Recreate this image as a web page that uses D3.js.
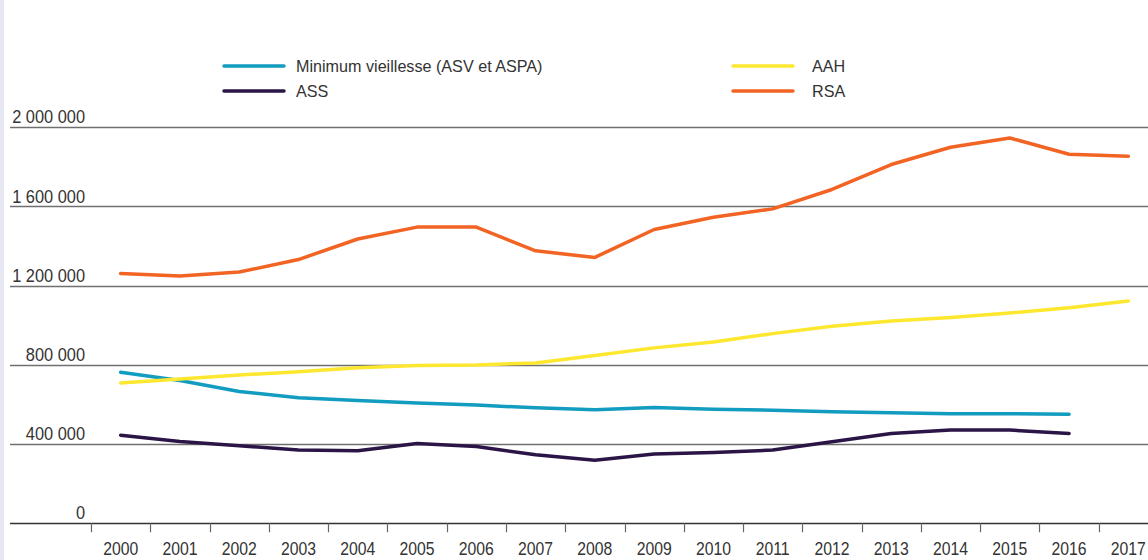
<!DOCTYPE html>
<html>
<head>
<meta charset="utf-8">
<script src="https://cdn.jsdelivr.net/npm/d3@7"></script>
<style>
  body { margin: 0; background: #fff; overflow: hidden; }
  text { font-family: "Liberation Sans", Arial, sans-serif; fill: #333; }
</style>
</head>
<body>
<div id="svg-area"></div>
<script>
var years = ["2000","2001","2002","2003","2004","2005","2006","2007","2008","2009",
             "2010","2011","2012","2013","2014","2015","2016","2017"];

// Minimum vieillesse (ASV et ASPA), ends in 2016
var minVieillesse = [763000, 721000, 666000, 634000, 620000, 607000, 597000, 583000, 573000,
                     585000, 576000, 571000, 563000, 558000, 553000, 553000, 551000, null];
var ass = [445000, 413000, 392000, 370000, 366000, 403000, 388000, 346000, 319000,
           350000, 358000, 370000, 412000, 454000, 471000, 471000, 454000, null];
var aah = [709000, 729000, 749000, 766000, 785000, 797000, 800000, 810000, 847000,
           886000, 916000, 958000, 995000, 1022000, 1039000, 1062000, 1089000, 1123000];
var rsa = [1262000, 1249000, 1269000, 1332000, 1436000, 1496000, 1496000, 1376000, 1343000,
           1484000, 1546000, 1588000, 1686000, 1812000, 1899000, 1946000, 1864000, 1854000];

var yTicks = [0, 400000, 800000, 1200000, 1600000, 2000000];

var series = [
  { name: "Minimum vieillesse (ASV et ASPA)", values: minVieillesse, color: "#129cc0" },
  { name: "ASS", values: ass, color: "#2b1547" },
  { name: "AAH", values: aah, color: "#fde72f" },
  { name: "RSA", values: rsa, color: "#f26424" }
];

var svgWidth = 1148;
var svgHeight = 560;

var svg = d3.select("#svg-area")
  .append("svg")
  .attr("width", svgWidth)
  .attr("height", svgHeight);

// thin lavender strip on the left edge
svg.append("rect")
  .attr("x", 0).attr("y", 0)
  .attr("width", 4).attr("height", svgHeight)
  .attr("fill", "#e7e7f3");

var xScale = d3.scaleBand()
  .domain(years)
  .range([91, 1158]);

var yScale = d3.scaleLinear()
  .domain([0, 2000000])
  .range([523.3, 127.3]);

var fmt = function(v) {
  return d3.format(",")(v).replace(/,/g, " ");
};

// gridlines + y labels
var grid = svg.append("g");
grid.selectAll("line")
  .data(yTicks)
  .enter()
  .append("line")
  .attr("x1", 10)
  .attr("x2", svgWidth)
  .attr("y1", d => Math.round(yScale(d)) + 0.5)
  .attr("y2", d => Math.round(yScale(d)) + 0.5)
  .attr("stroke", d => d === 0 ? "#333" : "#6f6f6f")
  .attr("stroke-width", 1.4);

// condensed look: squeeze the text horizontally
grid.selectAll("text")
  .data(yTicks)
  .enter()
  .append("text")
  .attr("transform", d => `translate(85, ${yScale(d) - 4}) scale(0.91, 1)`)
  .attr("text-anchor", "end")
  .style("font-size", "18px")
  .text(d => fmt(d));

// x axis: ticks at band edges, labels in band centres
var bottomAxis = d3.axisBottom(xScale).tickSize(0).tickPadding(0);
var xAxis = svg.append("g")
  .attr("transform", `translate(0, ${yScale(0)})`)
  .call(bottomAxis);
xAxis.select(".domain").remove();
xAxis.attr("font-family", null).attr("font-size", null);
xAxis.selectAll("text")
  .attr("dy", "0")
  .attr("y", 32)
  .attr("transform", "scale(0.9, 1)")
  .style("font-size", "17.5px")
  .attr("fill", "#333");

svg.append("g")
  .selectAll("line")
  .data(years)
  .enter()
  .append("line")
  .attr("x1", d => Math.round(xScale(d)) + 0.5)
  .attr("x2", d => Math.round(xScale(d)) + 0.5)
  .attr("y1", yScale(0))
  .attr("y2", yScale(0) + 9)
  .attr("stroke", "#666")
  .attr("stroke-width", 1.2);

// lines
var line = d3.line()
  .defined(d => d.v !== null)
  .x(d => xScale(d.year) + xScale.bandwidth() / 2)
  .y(d => yScale(d.v));

svg.append("g")
  .selectAll("path")
  .data(series)
  .enter()
  .append("path")
  .attr("d", s => line(s.values.map((v, i) => ({ year: years[i], v: v }))))
  .attr("fill", "none")
  .attr("stroke", s => s.color)
  .attr("stroke-width", 3.5)
  .attr("stroke-linecap", "round")
  .attr("stroke-linejoin", "round");

// legend
var legendPos = [
  { x: 224, y: 66 },
  { x: 224, y: 91 },
  { x: 733, y: 66 },
  { x: 733, y: 91 }
];
var legend = svg.append("g")
  .selectAll("g")
  .data(series)
  .enter()
  .append("g")
  .attr("transform", (s, i) => `translate(${legendPos[i].x}, ${legendPos[i].y})`);

legend.append("line")
  .attr("x1", 0).attr("x2", 60)
  .attr("y1", 0).attr("y2", 0)
  .attr("stroke", s => s.color)
  .attr("stroke-width", 3.5)
  .attr("stroke-linecap", "round");

legend.append("text")
  .attr("transform", (s, i) => `translate(${i < 2 ? 72 : 79}, 6) scale(0.95, 1)`)
  .style("font-size", "17px")
  .text(s => s.name);
</script>
</body>
</html>
